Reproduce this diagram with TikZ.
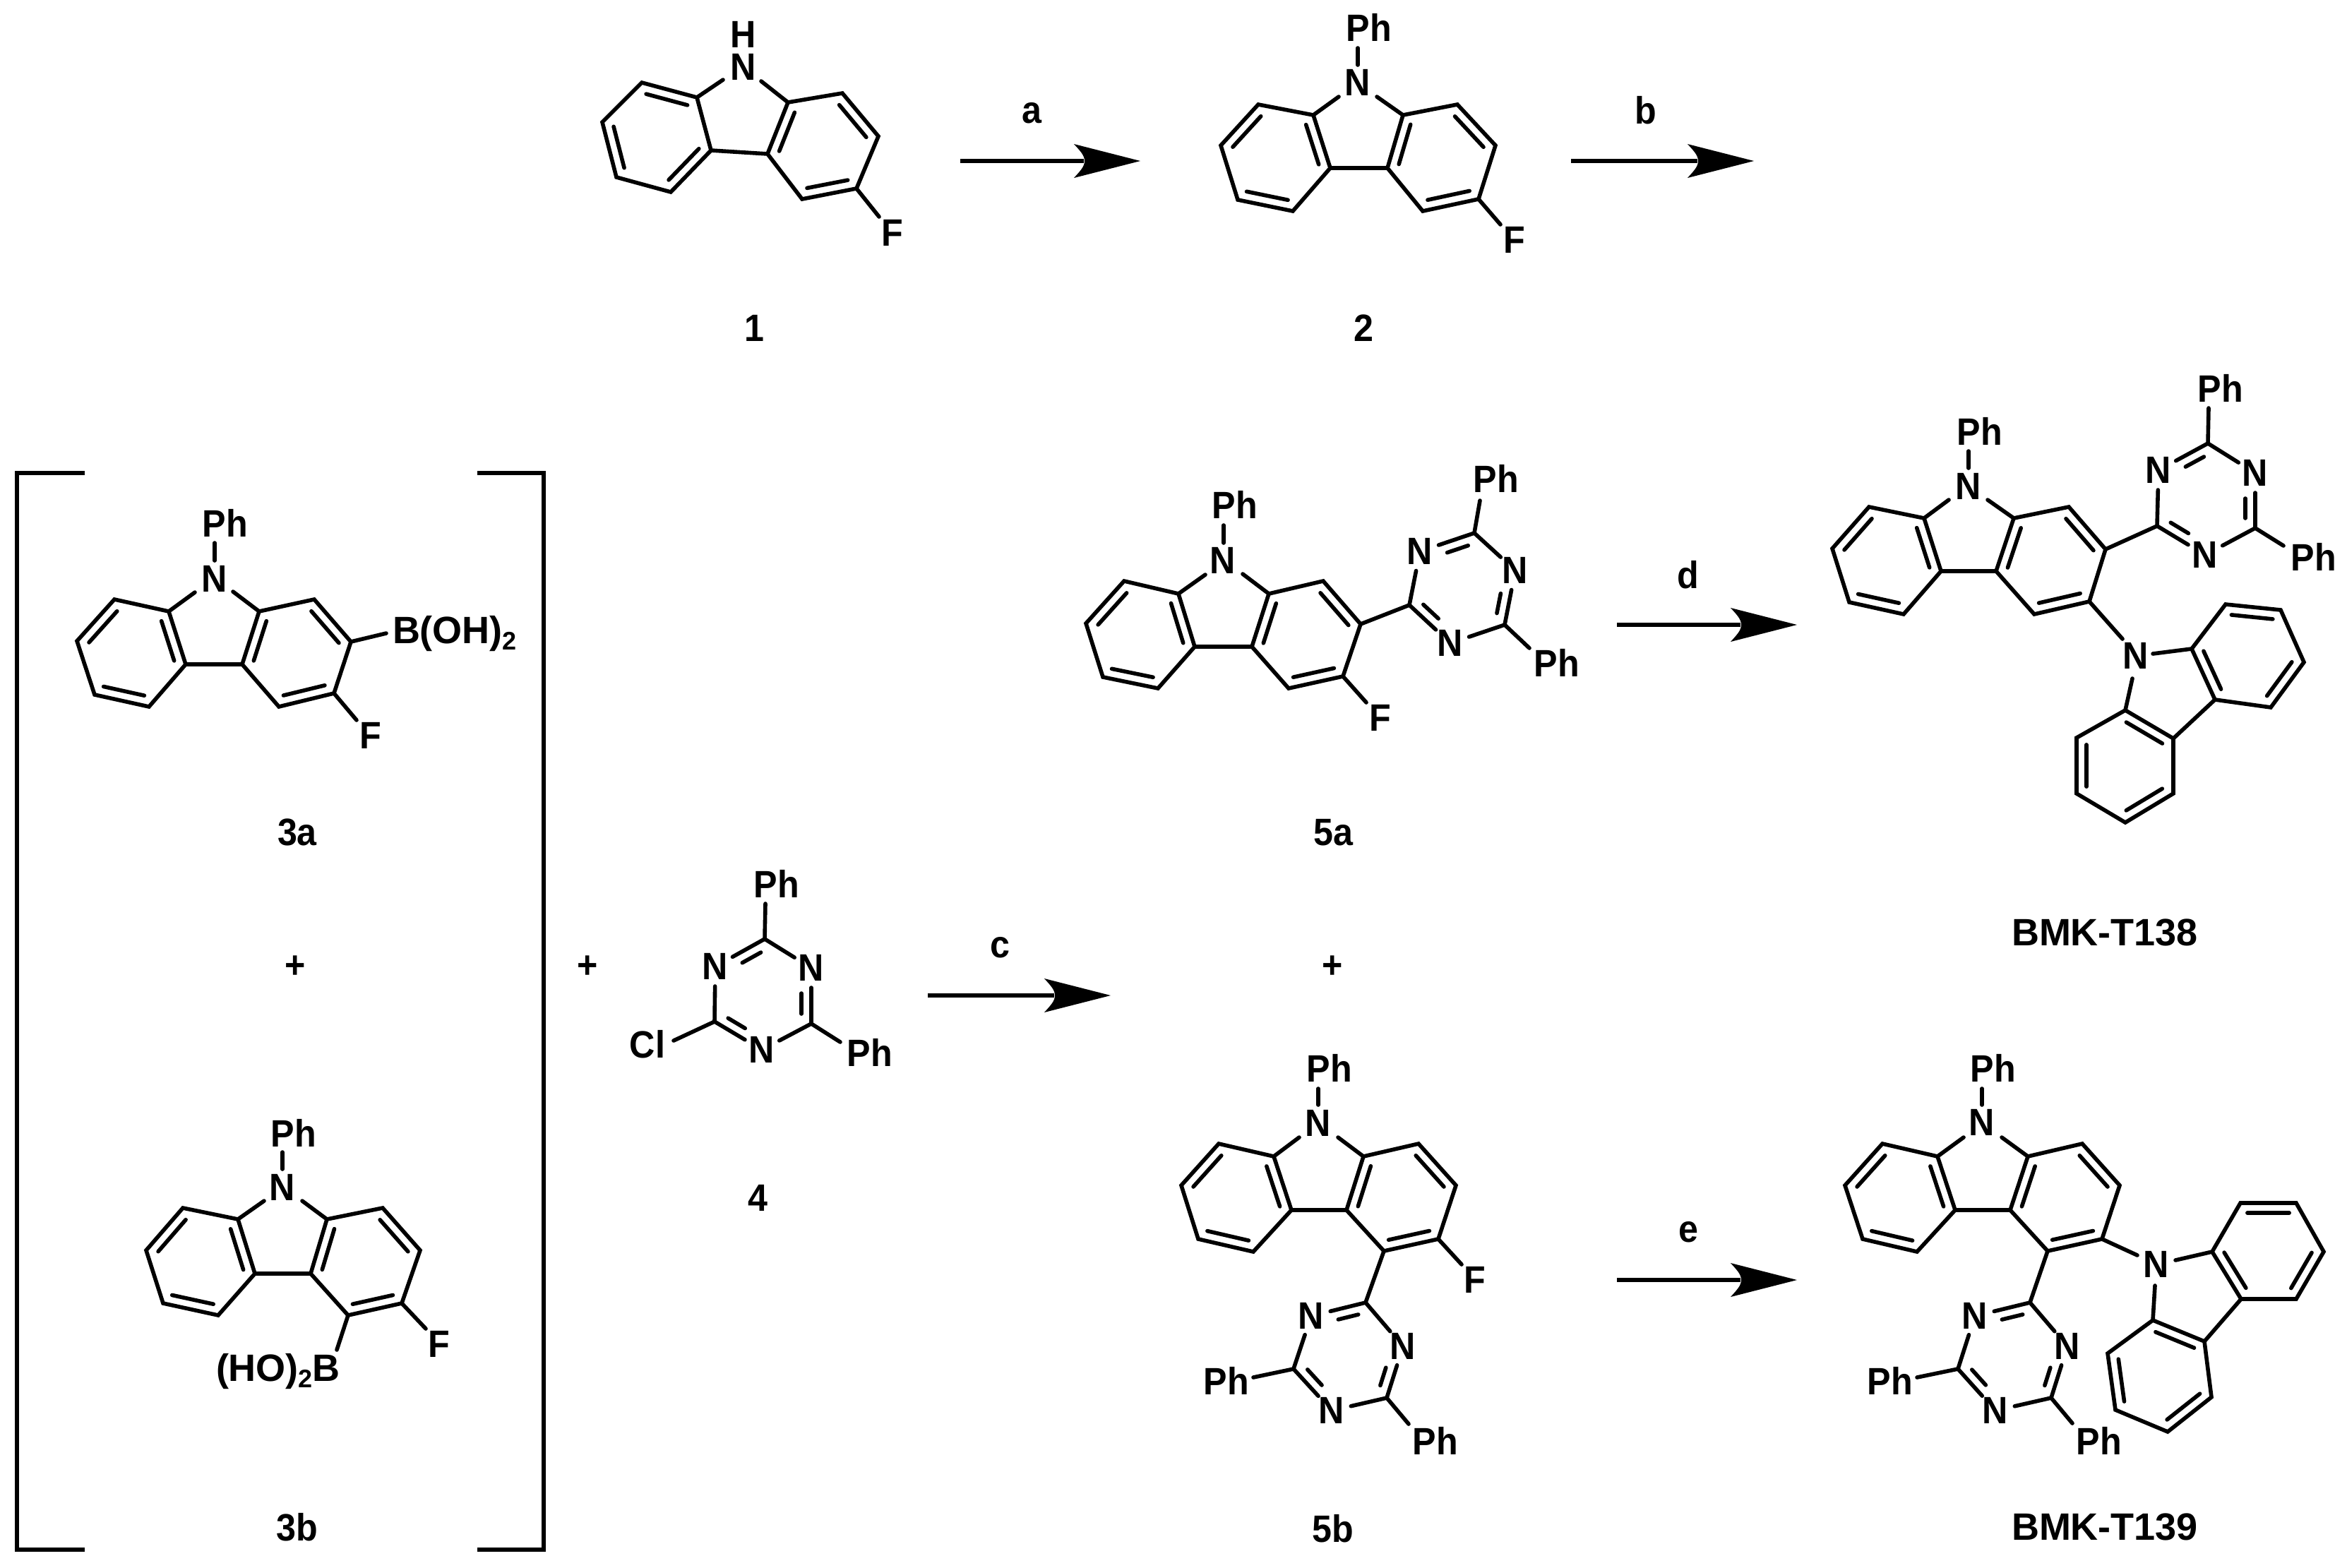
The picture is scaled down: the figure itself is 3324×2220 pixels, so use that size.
\documentclass[tikz,border=0pt]{standalone}
\usepackage{fontspec}
\setmainfont{Liberation Sans}[BoldFont={Liberation Sans Bold}]
\newfontfamily\atomfam{Liberation Sans}[BoldFont={Liberation Sans Bold},BoldFeatures={FakeStretch=0.93}]
\usetikzlibrary{calc}
\tikzset{
  x=1pt,y=-1pt,
  bond/.style={line width=5.6pt,line cap=round,miter limit=10,black},
  brk/.style={line width=5.5pt,line cap=butt,line join=miter,black},
  shaft/.style={line width=5.5pt,line cap=butt,black},
  atom/.style={inner sep=0pt,outer sep=0pt,font=\fontsize{54}{54}\atomfam\bfseries\selectfont},
  wide/.style={inner sep=0pt,outer sep=0pt,font=\fontsize{54}{54}\selectfont\bfseries},
  bigl/.style={inner sep=0pt,outer sep=0pt,font=\fontsize{54}{54}\selectfont\bfseries},
}
\newcommand\atoms[1]{\foreach \n/\x/\y in {#1}{\coordinate (\n) at (\x,\y);}}
\newcommand\inb[2]{\draw[bond] ($(#1)!.125!(#2)!14pt!-90:(#2)$) -- ($(#2)!.125!(#1)!14pt!90:(#1)$);}
\newcommand\carbskel{\draw[bond] (a)--(b)--(c)--(d)--(e)--(f)--cycle (g)--(h)--(i)--(j)--(k)--(l)--cycle (c)--(l) (b)--(nl) (g)--(nr);
  \inb{l}{g}\inb{h}{i}\inb{j}{k}}
\newcommand\carbA{\carbskel\inb{f}{a}\inb{b}{c}\inb{d}{e}}
\newcommand\carbB{\carbskel\inb{a}{b}\inb{c}{d}\inb{e}{f}}
\newcommand\cN[2]{\draw[bond] (#1) -- ($(#2)!28pt!(#1)$);}
\newcommand\dN[2]{\cN{#1}{#2}\draw[bond] ($(#1)!14pt!(#2)!14pt!90:(#2)$) -- ($(#2)!36pt!(#1)!14pt!-90:(#1)$);}
\newcommand\triazine{\cN{t}{n2}\dN{t}{n1}\cN{u}{n1}\dN{u}{n3}\cN{v}{n3}\dN{v}{n2}}
\newcommand\lab[4]{\node[atom] (#1) at (#2,#3) {#4};}
\newcommand\rxn[4]{% name, x1, x2, y
  \coordinate (#1s) at (#2,#4);\coordinate (#1e) at (#3,#4);
  \draw[shaft] (#1s) -- ($(#1e)+(-80,0)$);
  \begin{scope}[shift={(#1e)}]
    \fill (0,0) -- (-94,-24) .. controls (-85,-14) and (-79,-8) .. (-79,0) .. controls (-79,8) and (-85,14) .. (-94,24) -- cycle;
  \end{scope}}
\begin{document}
\begin{tikzpicture}
\useasboundingbox (0,0) rectangle (3324,2220);
\fill[white] (0,0) rectangle (3324,2220);

% --- compound 1
\atoms{a/909/117,b/987/138,c/1007/213,d/950/272,e/873/251,f/853/173,
g/1116/145,h/1193/132,i/1244/193,j/1213/267,k/1136/282,l/1087/218,nl/1024/113,nr/1078/115}
\carbB
\draw[bond] (j) -- (1245,307);
\lab{m1N}{1053}{95}{N}\lab{m1H}{1053}{49}{H}\lab{m1F}{1264}{330}{F}\lab{m1no}{1068}{465}{1}

% --- arrows a, b
\rxn{ra}{1360}{1615}{228}\lab{ral}{1461}{160}{a}
\rxn{rb}{2225}{2484}{228}\lab{rbl}{2331}{156}{b}

% --- compound 2
\atoms{a/1782/148,b/1860/163,c/1884/238,d/1831/299,e/1753/283,f/1729/206,
g/1987/163,h/2064/148,i/2118/206,j/2094/282,k/2015/299,l/1965/238,nl/1896/137,nr/1950/137}
\carbA
\draw[bond] (1923,68) -- (1923,92);
\draw[bond] (j) -- (2125,318);
\lab{m2N}{1923}{117}{N}\lab{m2P}{1939}{39}{Ph}\lab{m2F}{2145}{340}{F}\lab{m2no}{1931}{465}{2}

% --- brackets
\coordinate (bl1) at (120,670);\coordinate (bl2) at (24,670);\coordinate (bl3) at (24,2195);\coordinate (bl4) at (120,2195);
\coordinate (br1) at (676,670);\coordinate (br2) at (770,670);\coordinate (br3) at (770,2195);\coordinate (br4) at (676,2195);
\draw[brk] (bl1)--(bl2)--(bl3)--(bl4);
\draw[brk] (br1)--(br2)--(br3)--(br4);

% --- 3a
\atoms{a/162/849,b/239/866,c/263/941,d/211/1001,e/134/984,f/109/908,
g/367/866,h/445/849,i/497/909,j/473/982,k/395/1001,l/343/941,nl/276/839,nr/330/838}
\carbA
\draw[bond] (304,769) -- (304,794);
\draw[bond] (i) -- (547,897);
\draw[bond] (j) -- (505,1020);
\lab{m3aN}{304}{820}{N}\lab{m3aP}{319}{741}{Ph}\lab{m3aF}{525}{1042}{F}
\node[wide,anchor=base west] (m3aB) at (556,911) {B(OH)\raisebox{-9pt}{\fontsize{36}{36}\selectfont 2}};
\lab{m3ano}{421}{1179}{3a}
\lab{pl1}{418}{1370}{+}

% --- 3b
\atoms{a/259/1711,b/337/1727,c/361/1804,d/309/1863,e/231/1846,f/207/1771,
g/463/1727,h/542/1711,i/595/1771,j/569/1846,k/493/1863,l/440/1804,nl/374/1701,nr/428/1701}
\carbA
\draw[bond] (400,1632) -- (400,1656);
\draw[bond] (j) -- (603,1882);
\draw[bond] (k) -- (477,1912);
\lab{m3bN}{400}{1682}{N}\lab{m3bP}{416}{1605}{Ph}\lab{m3bF}{622}{1904}{F}
\node[wide,anchor=base west] (m3bB) at (306,1956) {(HO)\raisebox{-9pt}{\fontsize{36}{36}\selectfont 2}B};
\lab{m3bno}{421}{2163}{3b}

% --- 4
\lab{pl2}{832}{1370}{+}
\atoms{t/1083/1330,n1/1013/1369,n2/1149/1371,u/1012/1447,v/1149/1450,n3/1079/1487}
\triazine
\draw[bond] (t) -- (1084,1280);
\draw[bond] (u) -- (954,1474);
\draw[bond] (v) -- (1190,1476);
\lab{m4a}{1013}{1369}{N}\lab{m4b}{1149}{1371}{N}\lab{m4c}{1079}{1487}{N}
\lab{m4P}{1100}{1252}{Ph}\lab{m4Q}{1232}{1491}{Ph}\lab{m4C}{917}{1479}{Cl}\lab{m4no}{1073}{1697}{4}

% --- arrow c
\rxn{rc}{1314}{1573}{1410}\lab{rcl}{1416}{1342}{c}

% --- 5a
\atoms{a/1592/823,b/1669/841,c/1692/916,d/1640/975,e/1562/959,f/1538/883,
g/1797/841,h/1874/823,i/1927/884,j/1902/958,k/1825/975,l/1773/916,nl/1707/814,nr/1760/813,
t/2088/755,n1/2011/781,n2/2146/808,u/1996/857,n3/2054/911,v/2131/885}
\carbA\triazine
\draw[bond] (1733,744) -- (1733,769);
\draw[bond] (j) -- (1935,995);
\draw[bond] (i) -- (u);
\draw[bond] (t) -- (2096,709);
\draw[bond] (v) -- (2166,918);
\lab{m5aN}{1732}{794}{N}\lab{m5aP}{1749}{715}{Ph}\lab{m5aF}{1955}{1017}{F}
\lab{m5a1}{2011}{781}{N}\lab{m5a2}{2146}{808}{N}\lab{m5a3}{2054}{911}{N}
\lab{m5aQ}{2119}{678}{Ph}\lab{m5aR}{2205}{939}{Ph}\lab{m5ano}{1888}{1179}{5a}
\lab{pl3}{1887}{1370}{+}

% --- 5b
\atoms{a/1726/1620,b/1804/1638,c/1829/1714,d/1775/1773,e/1697/1755,f/1673/1679,
g/1931/1638,h/2009/1620,i/2062/1679,j/2037/1755,k/1960/1772,l/1907/1714,nl/1840/1611,nr/1895/1611,
t/1934/1845,n1/1857/1864,n2/1987/1907,u/1832/1939,n3/1886/1998,v/1964/1980}
\carbA\triazine
\draw[bond] (1867,1542) -- (1867,1565);
\draw[bond] (j) -- (2070,1791);
\draw[bond] (k) -- (t);
\draw[bond] (u) -- (1775,1951);
\draw[bond] (v) -- (1995,2017);
\lab{m5bN}{1867}{1591}{N}\lab{m5bP}{1883}{1513}{Ph}\lab{m5bF}{2089}{1813}{F}
\lab{m5b1}{1857}{1864}{N}\lab{m5b2}{1987}{1907}{N}\lab{m5b3}{1886}{1998}{N}
\lab{m5bQ}{1737}{1956}{Ph}\lab{m5bR}{2033}{2041}{Ph}\lab{m5bno}{1888}{2165}{5b}

% --- arrows d, e
\rxn{rd}{2290}{2545}{885}\lab{rdl}{2391}{814}{d}
\rxn{re}{2290}{2545}{1813}\lab{rel}{2391}{1745}{e}

% --- BMK-T138
\atoms{a/2647/718,b/2725/734,c/2749/809,d/2696/870,e/2619/853,f/2595/777,
g/2852/734,h/2930/718,i/2982/778,j/2959/852,k/2881/870,l/2827/809,nl/2760/708,nr/2815/708,
t/3127/628,n1/3057/666,n2/3194/670,u/3055/745,n3/3123/786,v/3194/748}
\carbA\triazine
\draw[bond] (2788,639) -- (2788,663);
\draw[bond] (i) -- (u);
\draw[bond] (t) -- (3128,578);
\draw[bond] (v) -- (3234,773);
\draw[bond] (j) -- (3006,905);
\lab{t8N}{2788}{689}{N}\lab{t8P}{2804}{611}{Ph}
\lab{t81}{3057}{666}{N}\lab{t82}{3194}{670}{N}\lab{t83}{3123}{786}{N}
\lab{t8Q}{3145}{550}{Ph}\lab{t8R}{3277}{789}{Ph}
\atoms{g/3104/919,h/3152/856,i/3230/864,j/3263/938,k/3216/1002,l/3137/991,
b/3010/1006,c/3078/1046,d/3078/1124,e/3010/1165,f/2941/1124,a/2941/1045,nl/3020/961,nr/3049/926}
\carbA
\lab{t8M}{3025}{929}{N}
\node[bigl] (t8no) at (2981,1321) {BMK-T138};

% --- BMK-T139
\atoms{a/2666/1620,b/2744/1638,c/2769/1714,d/2715/1773,e/2638/1755,f/2613/1679,
g/2872/1638,h/2949/1620,i/3002/1679,j/2977/1755,k/2900/1772,l/2847/1714,nl/2781/1611,nr/2835/1611,
t/2875/1845,n1/2797/1864,n2/2928/1907,u/2773/1939,n3/2826/1998,v/2905/1980}
\carbA\triazine
\draw[bond] (2807,1542) -- (2807,1565);
\draw[bond] (k) -- (t);
\draw[bond] (u) -- (2715,1951);
\draw[bond] (v) -- (2935,2016);
\draw[bond] (j) -- (3027,1778);
\lab{t9N}{2807}{1590}{N}\lab{t9P}{2823}{1513}{Ph}
\lab{t91}{2797}{1864}{N}\lab{t92}{2928}{1907}{N}\lab{t93}{2826}{1998}{N}
\lab{t9Q}{2677}{1956}{Ph}\lab{t9R}{2973}{2041}{Ph}
\atoms{g/3133/1773,h/3173/1704,i/3252/1704,j/3291/1773,k/3252/1840,l/3174/1840,
b/3049/1870,c/3122/1900,d/3132/1979,e/3070/2028,f/2996/1997,a/2985/1917,nl/3052/1821,nr/3081/1785}
\carbA
\lab{t9M}{3054}{1791}{N}
\node[bigl] (t9no) at (2981,2163) {BMK-T139};
\end{tikzpicture}
\end{document}
